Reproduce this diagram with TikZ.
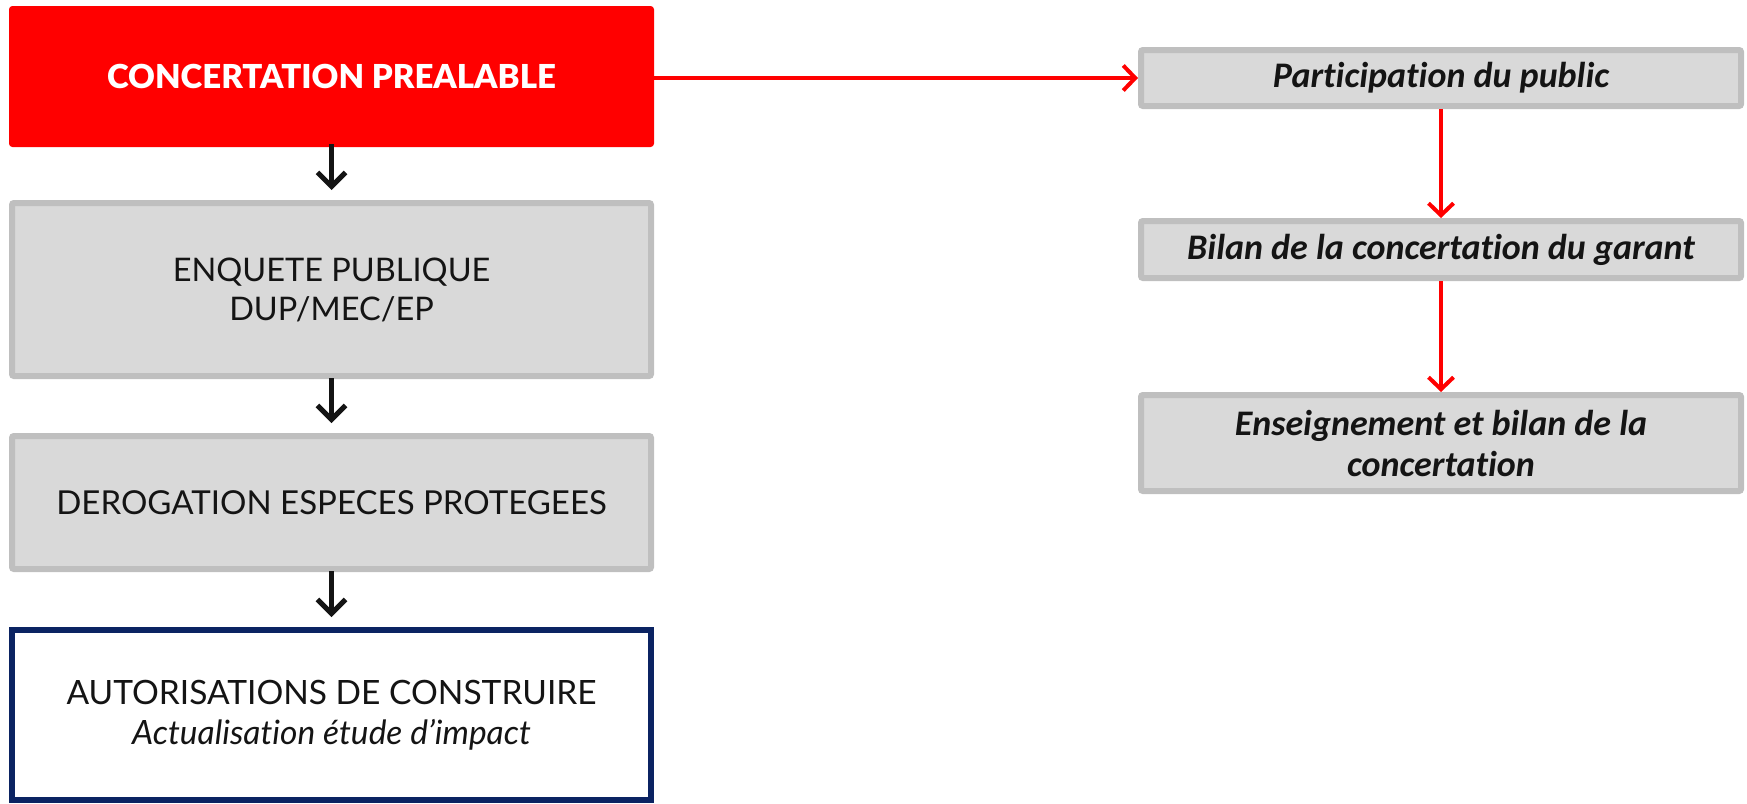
\documentclass[tikz,border=0pt]{standalone}
\usepackage{fontspec}
\setmainfont{Lato}[Ligatures={NoCommon}]
\newfontfamily\calib{Carlito}[Ligatures={NoCommon}]
\newfontfamily\latob{Lato Black}[Ligatures={NoCommon}]
\usetikzlibrary{arrows.meta}
\definecolor{boxgray}{HTML}{D9D9D9}
\definecolor{bordergray}{HTML}{BFBFBF}
\definecolor{navy}{HTML}{0B2362}
\definecolor{pured}{HTML}{FF0000}
\definecolor{txt}{HTML}{141414}
\tikzset{
  graybox/.style={draw=bordergray, fill=boxgray, line width=6pt, rounded corners=2pt, inner sep=0pt, align=center, text=txt},
  leftbox/.style={minimum width=639pt},
  rightbox/.style={minimum width=600pt, font=\calib\bfseries\itshape\fontsize{36}{41}\selectfont},
  blackarrow/.style={line width=5pt, draw=txt, -{Straight Barb[length=14pt,width=28pt]}},
  redarrow/.style={line width=4pt, draw=pured, -{Straight Barb[length=12pt,width=25pt]}},
}
\begin{document}
\begin{tikzpicture}[x=1pt,y=-1pt]
\useasboundingbox (0,0) rectangle (1747,803);
% left column
\node[fill=pured, draw=pured, line width=1pt, rounded corners=3pt, minimum width=644pt, minimum height=140pt, inner sep=0pt, text=white, font=\latob\fontsize{33}{38}\selectfont] (conc) at (331.5,76.5) {CONCERTATION PREALABLE};
\node[graybox, leftbox, minimum height=173pt, font=\fontsize{32.5}{39}\selectfont] (enq) at (331.5,289.5) {ENQUETE PUBLIQUE\\DUP/MEC/EP};
\node[graybox, leftbox, minimum height=133pt, font=\fontsize{33}{38}\selectfont] (der) at (331.5,502.5) {DEROGATION ESPECES PROTEGEES};
\node[draw=navy, fill=white, line width=6pt, inner sep=0pt, align=center, text=txt, minimum width=639pt, minimum height=170pt, font=\fontsize{33.5}{40}\selectfont] (aut) at (331.5,715) {AUTORISATIONS DE CONSTRUIRE\\\itshape Actualisation étude d’impact};
% right column
\node[graybox, rightbox, minimum height=56pt] (part) at (1441,78) {Participation du public};
\node[graybox, rightbox, minimum height=57pt] (bil) at (1441,249.5) {Bilan de la concertation du garant};
\node[graybox, rightbox, minimum height=96pt] (ens) at (1441,443) {Enseignement et bilan de la\\concertation};
% connectors
\draw[blackarrow, shorten <=-3pt, shorten >=10pt] (conc.south) -- (enq.north);
\draw[blackarrow, shorten <=-1pt, shorten >=10pt] (enq.south) -- (der.north);
\draw[blackarrow, shorten <=-1pt, shorten >=10pt] (der.south) -- (aut.north);
\draw[redarrow] (conc.east |- part.west) -- (part.west);
\draw[redarrow] (part.south) -- (bil.north);
\draw[redarrow] (bil.south) -- (ens.north);
\end{tikzpicture}
\end{document}
